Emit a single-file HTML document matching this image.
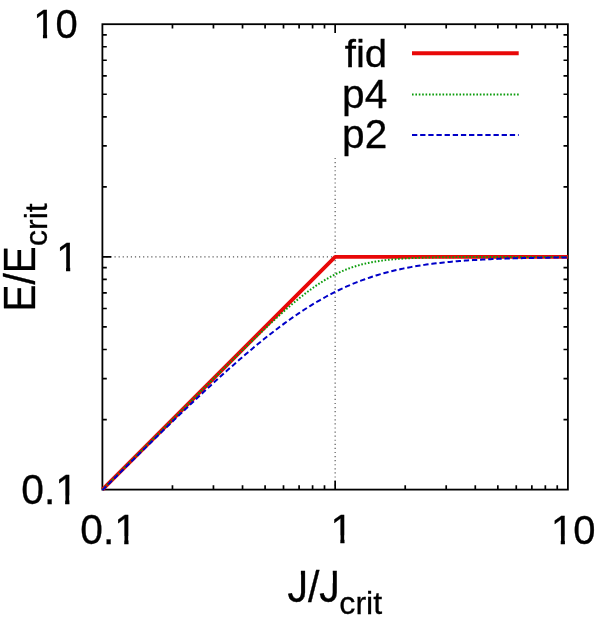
<!DOCTYPE html>
<html><head><meta charset="utf-8"><title>E/Ecrit vs J/Jcrit</title>
<style>
html,body{margin:0;padding:0;background:#fff;}
svg{display:block;}
text{font-family:"Liberation Sans",sans-serif;fill:#000;stroke:#000;stroke-width:0.3px;stroke-linejoin:miter;}
</style></head>
<body>
<svg width="600" height="621" viewBox="0 0 600 621">
<defs>
<clipPath id="c1"><path clip-rule="evenodd" d="M-20,-60 H120 V30 H-20 Z M1.20,-8 H10.00 V4 H1.20 Z M14.25,-8 H22.60 V4 H14.25 Z"/></clipPath>
<clipPath id="c01"><path clip-rule="evenodd" d="M-20,-60 H120 V30 H-20 Z M35.39,-8 H44.19 V4 H35.39 Z M48.44,-8 H56.79 V4 H48.44 Z"/></clipPath>
<clipPath id="cJ"><path clip-rule="evenodd" d="M-20,-60 H120 V30 H-20 Z M6.50,-34 H13.40 V-18.0 H6.50 Z M38.39,-34 H45.29 V-18.0 H38.39 Z"/></clipPath>
</defs>
<rect x="0" y="0" width="600" height="621" fill="#fff"/>
<!-- grid -->
<path d="M102.25,256.90 H567.90" stroke="#5a5a5a" stroke-width="1.2" stroke-dasharray="1.2 2.883" fill="none"/>
<path d="M335.15,489.83 V157.5" stroke="#5a5a5a" stroke-width="1.2" stroke-dasharray="1.2 2.883" fill="none"/>
<!-- frame + ticks -->
<path d="M172.46,489.60 v-4.40 M172.46,24.20 v4.40 M102.40,419.55 h4.40 M567.90,419.55 h-4.40 M213.45,489.60 v-4.40 M213.45,24.20 v4.40 M102.40,378.57 h4.40 M567.90,378.57 h-4.40 M242.53,489.60 v-4.40 M242.53,24.20 v4.40 M102.40,349.50 h4.40 M567.90,349.50 h-4.40 M265.09,489.60 v-4.40 M265.09,24.20 v4.40 M102.40,326.95 h4.40 M567.90,326.95 h-4.40 M283.51,489.60 v-4.40 M283.51,24.20 v4.40 M102.40,308.52 h4.40 M567.90,308.52 h-4.40 M299.10,489.60 v-4.40 M299.10,24.20 v4.40 M102.40,292.95 h4.40 M567.90,292.95 h-4.40 M312.59,489.60 v-4.40 M312.59,24.20 v4.40 M102.40,279.45 h4.40 M567.90,279.45 h-4.40 M324.50,489.60 v-4.40 M324.50,24.20 v4.40 M102.40,267.55 h4.40 M567.90,267.55 h-4.40 M405.21,489.60 v-4.40 M405.21,24.20 v4.40 M102.40,186.85 h4.40 M567.90,186.85 h-4.40 M446.20,489.60 v-4.40 M446.20,24.20 v4.40 M102.40,145.87 h4.40 M567.90,145.87 h-4.40 M475.28,489.60 v-4.40 M475.28,24.20 v4.40 M102.40,116.80 h4.40 M567.90,116.80 h-4.40 M497.84,489.60 v-4.40 M497.84,24.20 v4.40 M102.40,94.25 h4.40 M567.90,94.25 h-4.40 M516.26,489.60 v-4.40 M516.26,24.20 v4.40 M102.40,75.82 h4.40 M567.90,75.82 h-4.40 M531.85,489.60 v-4.40 M531.85,24.20 v4.40 M102.40,60.25 h4.40 M567.90,60.25 h-4.40 M545.34,489.60 v-4.40 M545.34,24.20 v4.40 M102.40,46.75 h4.40 M567.90,46.75 h-4.40 M557.25,489.60 v-4.40 M557.25,24.20 v4.40 M102.40,34.85 h4.40 M567.90,34.85 h-4.40 M335.15,489.60 v-8.80 M335.15,24.20 v8.80 M102.40,256.90 h8.80 M567.90,256.90 h-8.80" stroke="#000" stroke-width="1.7" fill="none"/>
<rect x="102.40" y="24.20" width="465.50" height="465.40" stroke="#000" stroke-width="1.8" fill="none"/>
<!-- curves -->
<path d="M102.40,489.60 L335.15,256.90 L567.90,256.90" stroke="#e80808" stroke-width="3.8" fill="none" stroke-linejoin="round"/>
<path d="M102.40,489.60 L104.34,487.66 L106.28,485.72 L108.22,483.79 L110.16,481.85 L112.10,479.91 L114.04,477.97 L115.98,476.03 L117.92,474.09 L119.86,472.15 L121.80,470.21 L123.74,468.28 L125.67,466.34 L127.61,464.40 L129.55,462.46 L131.49,460.52 L133.43,458.58 L135.37,456.64 L137.31,454.71 L139.25,452.77 L141.19,450.83 L143.13,448.89 L145.07,446.95 L147.01,445.01 L148.95,443.08 L150.89,441.14 L152.83,439.20 L154.77,437.26 L156.71,435.32 L158.65,433.39 L160.59,431.45 L162.53,429.51 L164.47,427.58 L166.41,425.64 L168.35,423.70 L170.29,421.77 L172.23,419.83 L174.16,417.89 L176.10,415.96 L178.04,414.02 L179.98,412.09 L181.92,410.15 L183.86,408.22 L185.80,406.28 L187.74,404.35 L189.68,402.42 L191.62,400.48 L193.56,398.55 L195.50,396.62 L197.44,394.69 L199.38,392.76 L201.32,390.83 L203.26,388.90 L205.20,386.97 L207.14,385.04 L209.08,383.12 L211.02,381.19 L212.96,379.27 L214.90,377.34 L216.84,375.42 L218.78,373.50 L220.71,371.58 L222.65,369.66 L224.59,367.75 L226.53,365.83 L228.47,363.92 L230.41,362.01 L232.35,360.10 L234.29,358.20 L236.23,356.30 L238.17,354.40 L240.11,352.50 L242.05,350.61 L243.99,348.72 L245.93,346.83 L247.87,344.95 L249.81,343.07 L251.75,341.20 L253.69,339.33 L255.63,337.47 L257.57,335.61 L259.51,333.76 L261.45,331.92 L263.39,330.08 L265.32,328.26 L267.26,326.44 L269.20,324.63 L271.14,322.82 L273.08,321.03 L275.02,319.25 L276.96,317.48 L278.90,315.73 L280.84,313.98 L282.78,312.25 L284.72,310.54 L286.66,308.84 L288.60,307.16 L290.54,305.49 L292.48,303.85 L294.42,302.22 L296.36,300.61 L298.30,299.03 L300.24,297.47 L302.18,295.93 L304.12,294.42 L306.06,292.93 L308.00,291.47 L309.94,290.04 L311.88,288.64 L313.81,287.27 L315.75,285.92 L317.69,284.62 L319.63,283.34 L321.57,282.10 L323.51,280.89 L325.45,279.72 L327.39,278.59 L329.33,277.49 L331.27,276.43 L333.21,275.40 L335.15,274.41 L337.09,273.46 L339.03,272.55 L340.97,271.67 L342.91,270.83 L344.85,270.03 L346.79,269.26 L348.73,268.53 L350.67,267.83 L352.61,267.16 L354.55,266.53 L356.49,265.93 L358.43,265.37 L360.36,264.83 L362.30,264.32 L364.24,263.84 L366.18,263.39 L368.12,262.96 L370.06,262.56 L372.00,262.18 L373.94,261.83 L375.88,261.50 L377.82,261.18 L379.76,260.89 L381.70,260.62 L383.64,260.36 L385.58,260.12 L387.52,259.90 L389.46,259.69 L391.40,259.49 L393.34,259.31 L395.28,259.14 L397.22,258.98 L399.16,258.83 L401.10,258.69 L403.04,258.57 L404.98,258.45 L406.91,258.33 L408.85,258.23 L410.79,258.14 L412.73,258.05 L414.67,257.96 L416.61,257.89 L418.55,257.81 L420.49,257.75 L422.43,257.69 L424.37,257.63 L426.31,257.58 L428.25,257.53 L430.19,257.48 L432.13,257.44 L434.07,257.40 L436.01,257.36 L437.95,257.33 L439.89,257.30 L441.83,257.27 L443.77,257.24 L445.71,257.22 L447.65,257.19 L449.59,257.17 L451.52,257.15 L453.46,257.13 L455.40,257.12 L457.34,257.10 L459.28,257.09 L461.22,257.07 L463.16,257.06 L465.10,257.05 L467.04,257.04 L468.98,257.03 L470.92,257.02 L472.86,257.01 L474.80,257.00 L476.74,256.99 L478.68,256.99 L480.62,256.98 L482.56,256.97 L484.50,256.97 L486.44,256.96 L488.38,256.96 L490.32,256.95 L492.26,256.95 L494.20,256.95 L496.14,256.94 L498.08,256.94 L500.01,256.94 L501.95,256.93 L503.89,256.93 L505.83,256.93 L507.77,256.93 L509.71,256.93 L511.65,256.92 L513.59,256.92 L515.53,256.92 L517.47,256.92 L519.41,256.92 L521.35,256.92 L523.29,256.91 L525.23,256.91 L527.17,256.91 L529.11,256.91 L531.05,256.91 L532.99,256.91 L534.93,256.91 L536.87,256.91 L538.81,256.91 L540.75,256.91 L542.69,256.91 L544.62,256.91 L546.56,256.91 L548.50,256.91 L550.44,256.91 L552.38,256.90 L554.32,256.90 L556.26,256.90 L558.20,256.90 L560.14,256.90 L562.08,256.90 L564.02,256.90 L565.96,256.90 L567.90,256.90" stroke="#0a9c0a" stroke-width="2" stroke-dasharray="1.6 1.79" fill="none"/>
<path d="M102.40,490.10 L104.34,488.18 L106.28,486.26 L108.22,484.35 L110.16,482.43 L112.10,480.51 L114.04,478.60 L115.98,476.68 L117.92,474.77 L119.86,472.86 L121.80,470.94 L123.74,469.03 L125.67,467.12 L127.61,465.22 L129.55,463.31 L131.49,461.40 L133.43,459.50 L135.37,457.60 L137.31,455.69 L139.25,453.79 L141.19,451.89 L143.13,450.00 L145.07,448.10 L147.01,446.21 L148.95,444.31 L150.89,442.42 L152.83,440.53 L154.77,438.65 L156.71,436.76 L158.65,434.88 L160.59,433.00 L162.53,431.12 L164.47,429.24 L166.41,427.37 L168.35,425.50 L170.29,423.63 L172.23,421.76 L174.16,419.90 L176.10,418.04 L178.04,416.18 L179.98,414.33 L181.92,412.47 L183.86,410.63 L185.80,408.78 L187.74,406.94 L189.68,405.10 L191.62,403.27 L193.56,401.44 L195.50,399.61 L197.44,397.79 L199.38,395.97 L201.32,394.16 L203.26,392.35 L205.20,390.55 L207.14,388.75 L209.08,386.95 L211.02,385.16 L212.96,383.38 L214.90,381.60 L216.84,379.83 L218.78,378.07 L220.71,376.31 L222.65,374.55 L224.59,372.81 L226.53,371.07 L228.47,369.33 L230.41,367.61 L232.35,365.89 L234.29,364.18 L236.23,362.47 L238.17,360.78 L240.11,359.09 L242.05,357.41 L243.99,355.74 L245.93,354.08 L247.87,352.43 L249.81,350.79 L251.75,349.16 L253.69,347.54 L255.63,345.93 L257.57,344.33 L259.51,342.74 L261.45,341.16 L263.39,339.59 L265.32,338.03 L267.26,336.49 L269.20,334.96 L271.14,333.44 L273.08,331.93 L275.02,330.44 L276.96,328.96 L278.90,327.49 L280.84,326.04 L282.78,324.60 L284.72,323.18 L286.66,321.77 L288.60,320.37 L290.54,318.99 L292.48,317.63 L294.42,316.28 L296.36,314.95 L298.30,313.63 L300.24,312.33 L302.18,311.05 L304.12,309.78 L306.06,308.53 L308.00,307.30 L309.94,306.09 L311.88,304.89 L313.81,303.71 L315.75,302.55 L317.69,301.40 L319.63,300.27 L321.57,299.17 L323.51,298.08 L325.45,297.00 L327.39,295.95 L329.33,294.92 L331.27,293.90 L333.21,292.90 L335.15,291.92 L337.09,290.96 L339.03,290.02 L340.97,289.10 L342.91,288.20 L344.85,287.31 L346.79,286.44 L348.73,285.59 L350.67,284.76 L352.61,283.95 L354.55,283.15 L356.49,282.38 L358.43,281.62 L360.36,280.88 L362.30,280.15 L364.24,279.45 L366.18,278.76 L368.12,278.08 L370.06,277.43 L372.00,276.79 L373.94,276.17 L375.88,275.56 L377.82,274.97 L379.76,274.39 L381.70,273.83 L383.64,273.29 L385.58,272.76 L387.52,272.24 L389.46,271.74 L391.40,271.26 L393.34,270.78 L395.28,270.33 L397.22,269.88 L399.16,269.45 L401.10,269.03 L403.04,268.62 L404.98,268.22 L406.91,267.84 L408.85,267.47 L410.79,267.11 L412.73,266.76 L414.67,266.42 L416.61,266.09 L418.55,265.78 L420.49,265.47 L422.43,265.17 L424.37,264.88 L426.31,264.60 L428.25,264.33 L430.19,264.07 L432.13,263.82 L434.07,263.58 L436.01,263.34 L437.95,263.11 L439.89,262.89 L441.83,262.68 L443.77,262.47 L445.71,262.27 L447.65,262.08 L449.59,261.90 L451.52,261.72 L453.46,261.54 L455.40,261.38 L457.34,261.21 L459.28,261.06 L461.22,260.91 L463.16,260.76 L465.10,260.62 L467.04,260.49 L468.98,260.36 L470.92,260.23 L472.86,260.11 L474.80,259.99 L476.74,259.88 L478.68,259.77 L480.62,259.66 L482.56,259.56 L484.50,259.47 L486.44,259.37 L488.38,259.28 L490.32,259.19 L492.26,259.11 L494.20,259.03 L496.14,258.95 L498.08,258.87 L500.01,258.80 L501.95,258.73 L503.89,258.66 L505.83,258.60 L507.77,258.53 L509.71,258.47 L511.65,258.41 L513.59,258.36 L515.53,258.30 L517.47,258.25 L519.41,258.20 L521.35,258.15 L523.29,258.11 L525.23,258.06 L527.17,258.02 L529.11,257.98 L531.05,257.94 L532.99,257.90 L534.93,257.86 L536.87,257.83 L538.81,257.79 L540.75,257.76 L542.69,257.73 L544.62,257.69 L546.56,257.66 L548.50,257.64 L550.44,257.61 L552.38,257.58 L554.32,257.56 L556.26,257.53 L558.20,257.51 L560.14,257.49 L562.08,257.46 L564.02,257.44 L565.96,257.42 L567.90,257.40" stroke="#0000c8" stroke-width="2" stroke-dasharray="5.3 2.85" fill="none"/>
<!-- legend samples -->
<path d="M412,53.3 H518.7" stroke="#e80808" stroke-width="4" fill="none"/>
<path d="M412,94.4 H518.7" stroke="#0a9c0a" stroke-width="2" stroke-dasharray="1.6 1.79" fill="none"/>
<path d="M412,134.9 H518.7" stroke="#0000c8" stroke-width="2" stroke-dasharray="5.3 2.85" fill="none"/>
<!-- labels -->
<g font-size="41.0">
<g transform="translate(33.20,37.90) scale(0.975,1.0)" clip-path="url(#c1)"><text x="0" y="0">10</text></g>
<g transform="translate(56.30,270.50) scale(0.975,1.0)" clip-path="url(#c1)"><text x="0" y="0">1</text></g>
<g transform="translate(21.20,503.70) scale(0.995,1.015)" clip-path="url(#c01)"><text x="0" y="0">0.1</text></g>
<g transform="translate(80.30,544.00) scale(0.995,1.015)" clip-path="url(#c01)"><text x="0" y="0">0.1</text></g>
<g transform="translate(330.60,543.30) scale(0.975,1.0)" clip-path="url(#c1)"><text x="0" y="0">1</text></g>
<g transform="translate(551.00,543.70) scale(0.975,1.0)" clip-path="url(#c1)"><text x="0" y="0">10</text></g>
<g transform="translate(387.2,67.1) scale(0.98,0.955)"><text x="0" y="0" text-anchor="end">fid</text></g>
<g transform="translate(387.2,107.7) scale(0.99,0.99)"><text x="0" y="0" text-anchor="end">p4</text></g>
<g transform="translate(387.2,148.4) scale(0.99,0.99)"><text x="0" y="0" text-anchor="end">p2</text></g>
<g transform="translate(287.5,602.4)"><g transform="scale(1,1.07)" clip-path="url(#cJ)"><text x="0" y="0">J/J</text></g><text x="51.8" y="11.4" font-size="32.2">crit</text></g>
<g transform="translate(34.7,311.4) rotate(-90)"><g transform="scale(0.985,1.075)"><text x="0" y="0">E/E</text></g><text x="65.4" y="12.2" font-size="32">crit</text></g>
</g>
</svg>
</body></html>
